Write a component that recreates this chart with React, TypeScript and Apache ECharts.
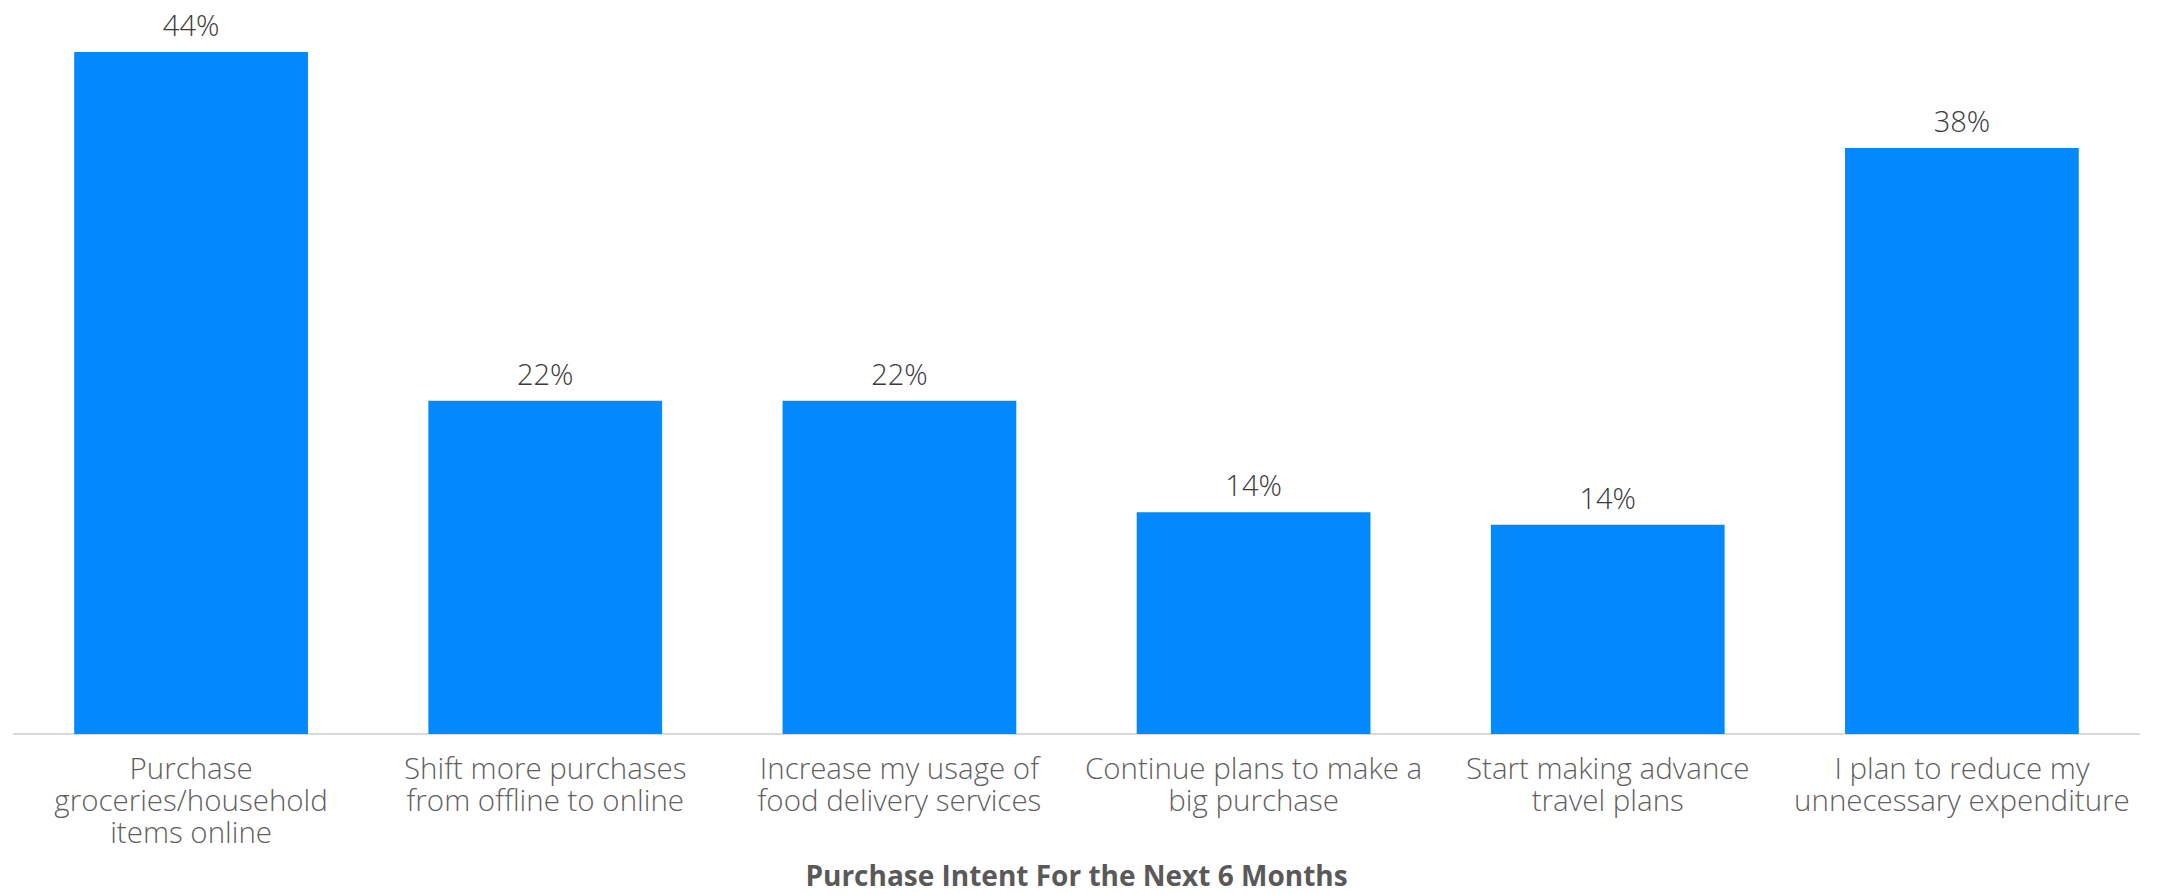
import React, { useEffect, useRef } from "react";
import * as echarts from "echarts";

const categories: string[] = [
  "Purchase\ngroceries/household\nitems online",
  "Shift more purchases\nfrom offline to online",
  "Increase my usage of\nfood delivery services",
  "Continue plans to make a\nbig purchase",
  "Start making advance\ntravel plans",
  "I plan to reduce my\nunnecessary expenditure",
];

const values: number[] = [44, 21.5, 21.5, 14.3, 13.5, 37.8];

const axisTitle = "Purchase Intent For the Next 6 Months";

const FONT = "'Open Sans', Lato, 'Noto Sans', sans-serif";

export default function App() {
  const ref = useRef<HTMLDivElement>(null);

  useEffect(() => {
    if (!ref.current) return;
    const chart = echarts.init(ref.current, null, { renderer: "svg" });
    chart.setOption({
      animation: false,
      backgroundColor: "#ffffff",
      grid: { left: 14, right: 21, top: 52, bottom: 153.5, containLabel: false },
      xAxis: {
        type: "category",
        data: categories,
        name: axisTitle,
        nameLocation: "middle",
        nameGap: 127,
        nameTextStyle: {
          fontFamily: FONT,
          fontSize: 28,
          fontWeight: "bold",
          color: "#595959",
        },
        axisLine: { show: true, lineStyle: { color: "#d9d9d9", width: 2 } },
        axisTick: { show: false },
        axisLabel: {
          interval: 0,
          margin: 17,
          fontFamily: FONT,
          fontSize: 29.5,
          fontWeight: 300,
          lineHeight: 32,
          color: "#5f5f5f",
          align: "center",
        },
      },
      yAxis: {
        type: "value",
        min: 0,
        max: 44,
        show: false,
        splitLine: { show: false },
      },
      series: [
        {
          type: "bar",
          data: values,
          barWidth: "66%",
          itemStyle: { color: "#0288ff" },
          label: {
            show: true,
            position: "top",
            distance: 13,
            fontFamily: FONT,
            fontSize: 29,
            fontWeight: 300,
            color: "#3a3a3a",
            formatter: (p: any) => Math.round(p.value) + "%",
          },
        },
      ],
    });
    return () => chart.dispose();
  }, []);

  return (
    <div
      ref={ref}
      style={{ position: "fixed", left: 0, top: 0, width: 2160, height: 894 }}
    />
  );
}
